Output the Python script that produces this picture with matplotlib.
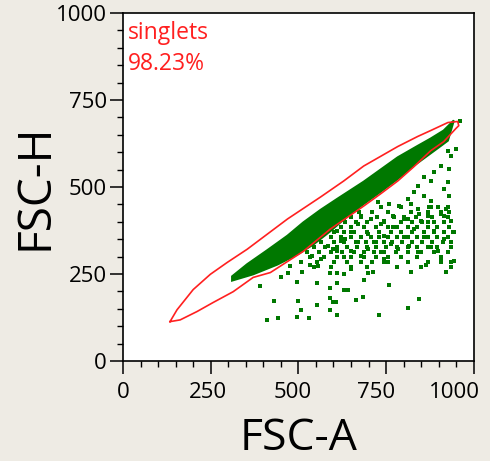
import numpy as np
import matplotlib.pyplot as plt
import matplotlib.transforms as mtransforms
from matplotlib.ticker import MultipleLocator

# --- data (FSC-A, FSC-H) ---
# singlet gate outline
gate_x = [134, 154, 200, 249, 297, 354, 469, 563, 629, 686, 783, 840, 877, 926, 954,
          957, 949, 914, 877, 829, 783, 734, 686, 640, 591, 514, 420, 371, 314, 257,
          211, 163, 134]
gate_y = [113, 147, 205, 249, 283, 321, 408, 471, 517, 560, 616, 645, 662, 685, 688,
          676, 668, 630, 604, 558, 517, 480, 445, 413, 379, 315, 254, 240, 199, 168,
          142, 118, 113]

# outline of the dense main population
band_x = [311, 354, 411, 469, 514, 563, 611, 686, 783, 840, 877, 914, 943,
          926, 906, 829, 783, 734, 686, 640, 591, 543, 497, 440, 371, 311]
band_y = [243, 278, 318, 360, 398, 434, 466, 515, 585, 618, 639, 662, 691,
          633, 618, 561, 523, 486, 451, 416, 373, 335, 306, 277, 249, 231]

# sparse events outside the dense band
events_x = [843, 811, 729, 611, 757, 686, 629, 663, 683, 600, 820, 863, 906, 934,
            920, 714, 697, 743, 649, 629, 611, 411, 443, 497, 529, 429, 500, 554,
            506, 591, 606, 591, 391, 497, 554, 591, 611, 640, 449, 471, 511, 534,
            557, 591, 926, 934, 906, 929, 886, 857, 877, 926, 840, 914, 929, 829,
            857, 811, 877, 897, 926, 840, 791, 869, 914, 811, 771, 849, 743, 886,
            726, 757, 786, 820, 877, 920, 843, 906, 800, 869, 934, 706, 677, 649,
            629, 669, 734, 771, 829, 886, 940, 611, 649, 697, 743, 800, 857, 914,
            620, 669, 720, 763, 814, 877, 934, 600, 649, 697, 734, 783, 840, 897,
            629, 677, 743, 906, 943, 563, 540, 506, 477, 611, 583, 634, 950, 960]
events_y = [179, 153, 133, 133, 217, 234, 205, 176, 185, 168, 257, 277, 283, 283,
            257, 257, 254, 283, 263, 249, 254, 118, 124, 127, 124, 171, 171, 162,
            147, 147, 168, 182, 214, 228, 225, 211, 225, 205, 240, 254, 257, 277,
            272, 254, 604, 590, 561, 552, 543, 529, 517, 514, 503, 494, 474, 486,
            474, 465, 460, 442, 442, 436, 442, 416, 416, 408, 416, 402, 402, 399,
            457, 451, 445, 451, 442, 436, 422, 422, 408, 399, 402, 408, 416, 428,
            408, 393, 393, 384, 379, 373, 370, 373, 370, 364, 358, 355, 355, 350,
            344, 341, 341, 335, 330, 327, 341, 321, 315, 321, 312, 321, 312, 315,
            298, 301, 292, 286, 286, 292, 301, 283, 272, 315, 330, 350, 610, 690]

# busier fringe just below the gate, read row by row
fringe_x = [734, 792, 873, 925,
            673, 711, 754, 820, 868, 906, 930,
            649, 677, 725, 773, 801, 834, 882, 925,
            634, 663, 696, 744, 792, 825, 853, 887, 915,
            620, 649, 687, 720, 754, 782, 811, 839, 868, 896, 930,
            601, 630, 658, 696, 730, 763, 792, 825, 858, 887, 915, 944,
            592, 620, 649, 677, 706, 730, 754, 782, 811, 839, 868, 896, 925,
            563, 601, 630, 663, 692, 715, 744, 768, 796, 825, 853, 882, 911,
            544, 577, 611, 639, 668, 696, 720, 749, 782, 811, 839, 868, 896, 934,
            525, 558, 592, 625, 658, 687, 715, 744, 777, 811, 849, 887, 925,
            534, 573, 611, 649, 687, 720, 754, 792, 839, 906,
            554, 601, 639, 677, 711, 754, 811, 868,
            544, 592, 649, 696, 782, 849, 934]
fringe_y = [442] * 4 + [428] * 7 + [413] * 8 + [399] * 9 + [384] * 11 + \
           [370] * 12 + [355] * 13 + [341] * 13 + [327] * 14 + [312] * 13 + \
           [298] * 10 + [283] * 8 + [269] * 7

major_ticks = [0, 250, 500, 750, 1000]
green = '#007800'
red = '#ff2020'
bg = '#eeebe4'

plt.rcParams['font.family'] = ['Open Sans', 'DejaVu Sans']

fig = plt.figure(figsize=(4.9, 4.61), dpi=100, facecolor=bg)
ax = fig.add_axes([0.251, 0.217, 0.716, 0.755])
ax.set_facecolor('white')

ax.fill(band_x, band_y, color=green, lw=1.5, ec=green)
ax.scatter(events_x + fringe_x, events_y + fringe_y, s=6.5, marker='s',
           color=green, linewidths=0)
ax.plot(gate_x, gate_y, color=red, lw=1.2)

ax.text(0.014, 0.978, 'singlets\n98.23%', transform=ax.transAxes, color=red,
        fontsize=16.5, va='top', ha='left', linespacing=1.4)

ax.set_xlim(0, 1000)
ax.set_ylim(0, 1000)
ax.set_xticks(major_ticks)
ax.set_yticks(major_ticks)
ax.xaxis.set_minor_locator(MultipleLocator(50))
ax.yaxis.set_minor_locator(MultipleLocator(50))
ax.tick_params(which='major', length=9.5, width=1.1, labelsize=16, direction='out', pad=2)
ax.tick_params(which='minor', length=4.5, width=1.0, direction='out')
ax.tick_params(axis='x', which='major', pad=5.5)
for sp in ax.spines.values():
    sp.set_linewidth(1.2)

# x tick labels sit a little left of their ticks in the original
shifts = [0, -3, -6, -10, -19]
for lab, dx in zip(ax.get_xticklabels(), shifts):
    lab.set_transform(lab.get_transform() +
                      mtransforms.ScaledTranslation(dx / 100, 0, fig.dpi_scale_trans))

ax.set_xlabel('FSC-A', fontsize=32, labelpad=10)
ax.set_ylabel('FSC-H', fontsize=33, labelpad=-2)

fig.savefig('out.png', dpi=100, facecolor=bg)
